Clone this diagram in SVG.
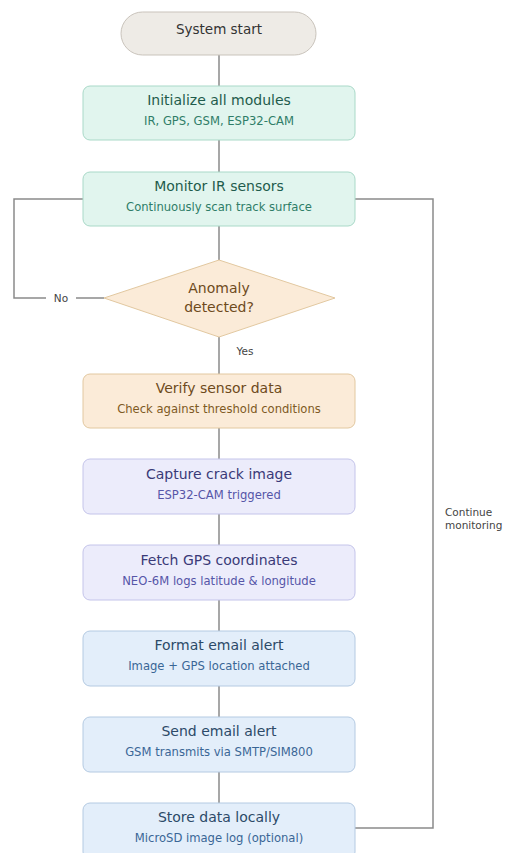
<svg xmlns="http://www.w3.org/2000/svg" width="508" height="853" viewBox="0 0 508 853">
<style>
text{font-family:"DejaVu Sans","Liberation Sans",sans-serif;text-anchor:middle}
.t{font-size:14px}
.s{font-size:11.6px}
.c{fill:none;stroke:#8a8a8a;stroke-width:1.5}
.g rect{fill:#e1f5ee;stroke:#a9d9c8}
.g .t{fill:#1f5c4c}.g .s{fill:#2f7d68}
.o rect,.o polygon{fill:#fbebd8;stroke:#e2c8a0}
.o .t{fill:#6e4a1c}.o .s{fill:#7e5a24}
.p rect{fill:#ececfb;stroke:#c4c4ea}
.p .t{fill:#3a3a78}.p .s{fill:#5656a8}
.b rect{fill:#e3eefa;stroke:#b4cae2}
.b .t{fill:#2c4a68}.b .s{fill:#3a6696}
.lbl{font-size:10.5px;fill:#444}
</style>
<rect width="508" height="853" fill="#fff"/>
<g id="connectors">
<path class="c" d="M219 55V86M219 140V172M219 226V260M219 337V374M219 428V459M219 514V545M219 600V631M219 686V717M219 772V803"/>
<path class="c" d="M83 199H14V298H46M76 298H104"/>
<path class="c" d="M355 828H433V199H355"/>
<text class="lbl" x="61" y="302">No</text>
<text class="lbl" x="245" y="355">Yes</text>
<text class="lbl" x="445" y="516" style="text-anchor:start">Continue</text>
<text class="lbl" x="445" y="529" style="text-anchor:start">monitoring</text>
</g>
<g id="start">
<rect x="121" y="12" width="195" height="43" rx="21.5" fill="#eeebe6" stroke="#c9c3bb"/>
<text x="219" y="34" fill="#333" font-size="13.5">System start</text>
</g>
<g id="init" class="g">
<rect x="83" y="86" width="272" height="54" rx="7"/>
<text class="t" x="219" y="105">Initialize all modules</text>
<text class="s" x="219" y="125">IR, GPS, GSM, ESP32-CAM</text>
</g>
<g id="monitor" class="g">
<rect x="83" y="172" width="272" height="54" rx="7"/>
<text class="t" x="219" y="191">Monitor IR sensors</text>
<text class="s" x="219" y="211">Continuously scan track surface</text>
</g>
<g id="anomaly" class="o">
<polygon points="219,260 335,298 219,337 104,298"/>
<text class="t" x="219" y="293">Anomaly</text>
<text class="t" x="219" y="312">detected?</text>
</g>
<g id="verify" class="o">
<rect x="83" y="374" width="272" height="54" rx="7"/>
<text class="t" x="219" y="393">Verify sensor data</text>
<text class="s" x="219" y="413">Check against threshold conditions</text>
</g>
<g id="capture" class="p">
<rect x="83" y="459" width="272" height="55" rx="7"/>
<text class="t" x="219" y="479">Capture crack image</text>
<text class="s" x="219" y="499">ESP32-CAM triggered</text>
</g>
<g id="gps" class="p">
<rect x="83" y="545" width="272" height="55" rx="7"/>
<text class="t" x="219" y="565">Fetch GPS coordinates</text>
<text class="s" x="219" y="585">NEO-6M logs latitude &amp; longitude</text>
</g>
<g id="format" class="b">
<rect x="83" y="631" width="272" height="55" rx="7"/>
<text class="t" x="219" y="650">Format email alert</text>
<text class="s" x="219" y="670">Image + GPS location attached</text>
</g>
<g id="send" class="b">
<rect x="83" y="717" width="272" height="55" rx="7"/>
<text class="t" x="219" y="736">Send email alert</text>
<text class="s" x="219" y="756">GSM transmits via SMTP/SIM800</text>
</g>
<g id="store" class="b">
<rect x="83" y="803" width="272" height="56" rx="7"/>
<text class="t" x="219" y="822">Store data locally</text>
<text class="s" x="219" y="842">MicroSD image log (optional)</text>
</g>
</svg>
